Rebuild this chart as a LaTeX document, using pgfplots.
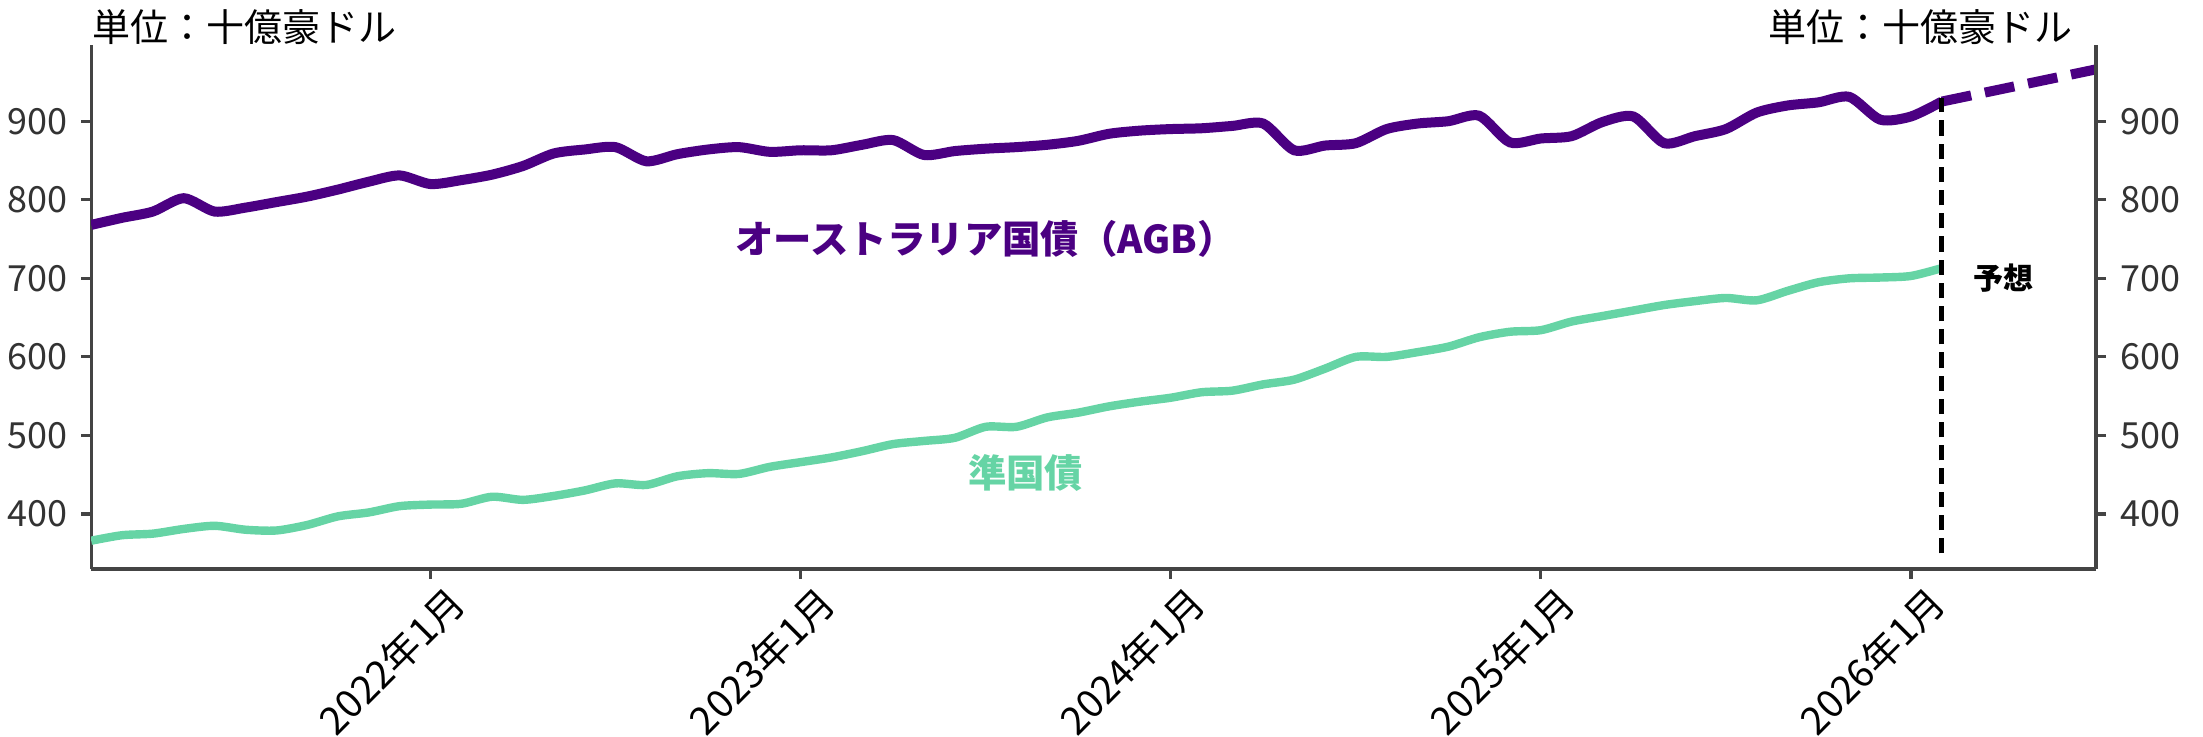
\documentclass[border=0pt]{standalone}
\usepackage{pgfplots}
\pgfplotsset{compat=1.18}
\usepackage{fontspec}
\setmainfont{Noto Sans CJK JP}
\definecolor{agb}{HTML}{4B0082}
\definecolor{semi}{HTML}{66D4A5}
\definecolor{spine}{HTML}{444444}
\definecolor{ticktxt}{HTML}{333333}
\begin{document}
\begin{tikzpicture}
\useasboundingbox (-22.8pt,-42pt) rectangle (527.95pt,142.25pt);
\pgfplotsset{every axis/.append style={
  scale only axis, width=501.2pt, height=131pt,
  xmin=1, xmax=66, ymin=330, ymax=997,
  /pgf/number format/assume math mode=true,
  tick align=outside, major tick length=2.5pt,
  axis line style={spine, line width=0.8pt},
  tick style={spine, line width=0.8pt},
  ytick={400,500,600,700,800,900},
  yticklabel style={font=\fontsize{9}{10}\selectfont, text=ticktxt},
}}
\begin{axis}[
  axis x line*=bottom, axis y line*=left,
  xtick={12,24,36,48,60},
  xticklabels={2022年1月,2023年1月,2024年1月,2025年1月,2026年1月},
  xticklabel style={font=\fontsize{9.7}{10}\selectfont, rotate=45, anchor=north east, inner sep=0pt, yshift=-3pt, xshift=2pt},
]
\addplot[agb, line width=2.5pt, smooth, tension=0.45] coordinates {
(1,768)(2,777)(3,785)(4,802)(5,785)(6,790)(7,797)(8,804)(9,813)(10,823)
(11,831)(12,820)(13,825)(14,832)(15,843)(16,859)(17,864)(18,867)(19,849)(20,858)
(21,864)(22,867)(23,861)(24,863)(25,863)(26,870)(27,876)(28,857)(29,862)(30,865)
(31,867)(32,870)(33,875)(34,884)(35,888)(36,890)(37,891)(38,894)(39,897)(40,863)
(41,869)(42,872)(43,890)(44,897)(45,900)(46,907)(47,873)(48,878)(49,881)(50,899)
(51,906)(52,872)(53,881)(54,890)(55,911)(56,920)(57,924)(58,931)(59,902)(60,906)
(61,925)};
\addplot[semi, line width=2.1pt, smooth, tension=0.45] coordinates {
(1,366)(2,373)(3,375)(4,381)(5,385)(6,380)(7,379)(8,386)(9,397)(10,402)
(11,410)(12,412)(13,413)(14,422)(15,418)(16,423)(17,430)(18,439)(19,437)(20,448)
(21,452)(22,451)(23,460)(24,466)(25,472)(26,480)(27,489)(28,493)(29,497)(30,511)
(31,511)(32,523)(33,529)(34,537)(35,543)(36,548)(37,555)(38,557)(39,565)(40,571)
(41,585)(42,600)(43,600)(44,606)(45,613)(46,625)(47,632)(48,634)(49,645)(50,652)
(51,659)(52,666)(53,671)(54,675)(55,672)(56,684)(57,695)(58,700)(59,701)(60,703)
(61,713)};
\addplot[agb, line width=2.5pt, dash pattern=on 7.5pt off 3.5pt] coordinates {(61,925)(66,966)};
\addplot[black, line width=1.2pt, dash pattern=on 3.8pt off 2pt] coordinates {(61,350)(61,930)};
\node[font=\bfseries\fontsize{9.6}{11}\selectfont, text=agb] at (axis cs:30,750) {オーストラリア国債（AGB）};
\node[font=\bfseries\fontsize{9.6}{11}\selectfont, text=semi] at (axis cs:31.3,452) {準国債};
\node[anchor=west, font=\bfseries\fontsize{7.5}{9}\selectfont, inner sep=0pt] at (axis cs:62,700) {予想};
\end{axis}
\begin{axis}[
  axis y line*=right, axis x line=none,
  yticklabel pos=right,
]
\addplot[draw=none] coordinates {(1,400)};
\end{axis}
\node[anchor=west, inner sep=0pt, font=\fontsize{9.5}{11}\selectfont] at (0pt,135.5pt) {単位：十億豪ドル};
\node[anchor=east, inner sep=0pt, font=\fontsize{9.5}{11}\selectfont] at (495.4pt,135.5pt) {単位：十億豪ドル};
\end{tikzpicture}
\end{document}
